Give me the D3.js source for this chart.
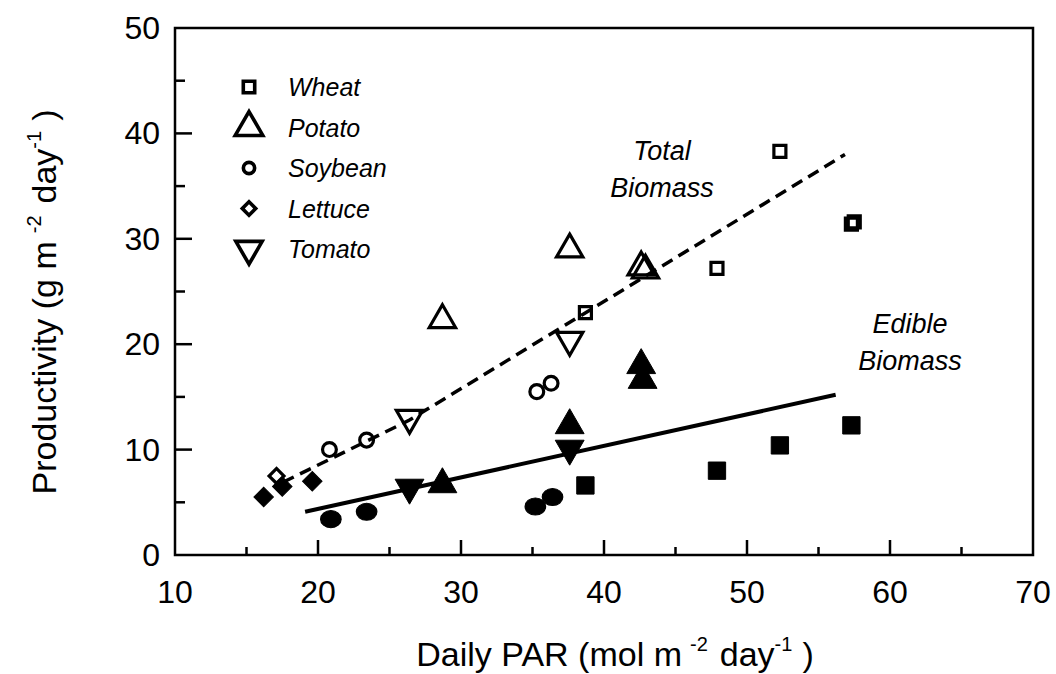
<!DOCTYPE html>
<html>
<head>
<meta charset="utf-8">
<script src="https://cdn.jsdelivr.net/npm/d3@7"></script>
<style>
  body { margin: 0; background: #fff; }
  text { font-family: "Liberation Sans", Arial, sans-serif; fill: #000; }
</style>
</head>
<body>
<svg id="chart" width="1056" height="674"></svg>
<script>
// crops, in legend order
const crops = ["Wheat", "Potato", "Soybean", "Lettuce", "Tomato"];

// total biomass (open symbols)
const totalX = {
  Wheat: [38.7, 47.9, 52.3, 57.3, 57.5],
  Potato: [28.7, 37.6, 42.6, 42.9],
  Soybean: [20.8, 23.4, 35.3, 36.3],
  Lettuce: [17.1],
  Tomato: [26.4, 37.6]
};
const totalY = {
  Wheat: [23.0, 27.2, 38.3, 31.4, 31.6],
  Potato: [22.3, 29.0, 27.3, 27.0],
  Soybean: [10.0, 10.9, 15.5, 16.3],
  Lettuce: [7.5],
  Tomato: [13.0, 20.4]
};

// edible biomass (filled symbols)
const edibleX = {
  Wheat: [38.7, 47.9, 52.3, 57.3],
  Potato: [28.7, 37.6, 42.6, 42.7],
  Soybean: [20.9, 23.4, 35.2, 36.4],
  Lettuce: [16.2, 17.5, 19.6],
  Tomato: [26.4, 37.6]
};
const edibleY = {
  Wheat: [6.6, 8.0, 10.4, 12.3],
  Potato: [6.7, 12.3, 18.0, 16.6],
  Soybean: [3.4, 4.1, 4.6, 5.5],
  Lettuce: [5.5, 6.5, 7.0],
  Tomato: [6.4, 10.1]
};

// fitted lines
const totalFitX = [17.55, 26.4, 56.85];
const totalFitY = [6.9, 12.8, 38.0];
const edibleFitX = [19.1, 56.2];
const edibleFitY = [4.1, 15.2];

const xTicks = [10, 20, 30, 40, 50, 60, 70];
const yTicks = [0, 10, 20, 30, 40, 50];

const svg = d3.select("#chart");
const plotL = 175, plotR = 1033, plotT = 28, plotB = 555;

const x = d3.scaleLinear().domain([10, 70]).range([plotL, plotR]);
const y = d3.scaleLinear().domain([0, 50]).range([plotB, plotT]);

// symbol shapes
const shape = {
  Wheat: { type: d3.symbolSquare, size: 144, rot: 0 },
  Potato: { type: d3.symbolTriangle, size: 300, rot: 0 },
  Soybean: { type: d3.symbolCircle, size: 150, rot: 0 },
  Lettuce: { type: d3.symbolSquare, size: 110, rot: 45 },
  Tomato: { type: d3.symbolTriangle, size: 300, rot: 180 }
};
const filledSize = {
  Wheat: 300, Potato: 360, Soybean: 230, Lettuce: 190, Tomato: 360
};

function drawSym(g, crop, cx, cy, filled, size, sw) {
  const s = shape[crop];
  const sz = size || (filled ? filledSize[crop] : s.size);
  const sx = crop === "Soybean" && filled ? 1.2 : 1;
  g.append("path")
    .attr("d", d3.symbol().type(s.type).size(sz)())
    .attr("transform", "translate(" + cx + "," + cy + ") rotate(" + s.rot + ") scale(" + sx + ",1)")
    .attr("fill", filled ? "#000" : "#fff")
    .attr("fill-opacity", filled ? 1 : 0)
    .attr("stroke", "#000")
    .attr("stroke-width", filled ? 1 : (sw || 3.2))
    .attr("stroke-linejoin", "miter");
}

// frame
svg.append("rect")
  .attr("x", plotL).attr("y", plotT)
  .attr("width", plotR - plotL).attr("height", plotB - plotT)
  .attr("fill", "none").attr("stroke", "#000").attr("stroke-width", 2.5);

// x ticks (inward)
const xAll = d3.range(10, 70.01, 5);
svg.append("g").selectAll("line").data(xAll.filter(d => d > 10 && d < 70)).join("line")
  .attr("x1", d => x(d)).attr("x2", d => x(d))
  .attr("y1", plotB)
  .attr("y2", d => plotB - (d % 10 === 0 ? 15 : 8))
  .attr("stroke", "#000").attr("stroke-width", 2.5);

svg.append("g").selectAll("text").data(xTicks).join("text")
  .attr("x", d => x(d)).attr("y", 603)
  .attr("text-anchor", "middle")
  .attr("font-size", 32)
  .text(d => d);

// y ticks (inward)
const yAll = d3.range(0, 50.01, 5);
svg.append("g").selectAll("line").data(yAll.filter(d => d > 0 && d < 50)).join("line")
  .attr("x1", plotL)
  .attr("x2", d => plotL + (d % 10 === 0 ? 17 : 10))
  .attr("y1", d => y(d)).attr("y2", d => y(d))
  .attr("stroke", "#000").attr("stroke-width", 2.5);

svg.append("g").selectAll("text").data(yTicks).join("text")
  .attr("x", 160).attr("y", d => y(d) + 11)
  .attr("text-anchor", "end")
  .attr("font-size", 32)
  .text(d => d);

// axis titles
const xt = svg.append("text")
  .attr("x", 615).attr("y", 666)
  .attr("text-anchor", "middle")
  .attr("font-size", 34);
xt.append("tspan").text("Daily PAR (mol m");
xt.append("tspan").attr("dx", 8).attr("dy", -15).attr("font-size", 20).text("-2");
xt.append("tspan").attr("dx", 12).attr("dy", 15).text("day");
xt.append("tspan").attr("dy", -15).attr("font-size", 20).text("-1");
xt.append("tspan").attr("dx", 10).attr("dy", 15).text(")");

const yt = svg.append("text")
  .attr("transform", "translate(56,302) rotate(-90)")
  .attr("text-anchor", "middle")
  .attr("font-size", 34);
yt.append("tspan").text("Productivity (g m");
yt.append("tspan").attr("dx", 8).attr("dy", -15).attr("font-size", 20).text("-2");
yt.append("tspan").attr("dx", 12).attr("dy", 15).text("day");
yt.append("tspan").attr("dy", -15).attr("font-size", 20).text("-1");
yt.append("tspan").attr("dx", 10).attr("dy", 15).text(")");

// fit lines
const line = d3.line().x(d => x(d[0])).y(d => y(d[1]));
svg.append("path")
  .attr("d", line(d3.zip(totalFitX, totalFitY)))
  .attr("fill", "none").attr("stroke", "#000")
  .attr("stroke-width", 3.5).attr("stroke-dasharray", "12,7");
svg.append("path")
  .attr("d", line(d3.zip(edibleFitX, edibleFitY)))
  .attr("fill", "none").attr("stroke", "#000")
  .attr("stroke-width", 4);

// points
const pts = svg.append("g");
crops.forEach(c => {
  totalX[c].forEach((v, i) => drawSym(pts, c, x(v), y(totalY[c][i]), false));
  edibleX[c].forEach((v, i) => drawSym(pts, c, x(v), y(edibleY[c][i]), true));
});

// legend
const leg = svg.append("g");
const legSize = { Wheat: 130, Potato: 330, Soybean: 100, Lettuce: 90, Tomato: 300 };
crops.forEach((c, i) => {
  const ly = 87 + i * 40.5;
  drawSym(leg, c, 249, ly, false, legSize[c], 3.6);
  leg.append("text")
    .attr("x", 288).attr("y", ly + 9)
    .attr("font-size", 25).attr("font-style", "italic")
    .text(c);
});

// annotations
function label(lines, cx, by) {
  lines.forEach((t, i) => {
    svg.append("text")
      .attr("x", cx).attr("y", by + i * 37)
      .attr("text-anchor", "middle")
      .attr("font-size", 27).attr("font-style", "italic")
      .text(t);
  });
}
label(["Total", "Biomass"], 662, 160);
label(["Edible", "Biomass"], 910, 333);
</script>
</body>
</html>
